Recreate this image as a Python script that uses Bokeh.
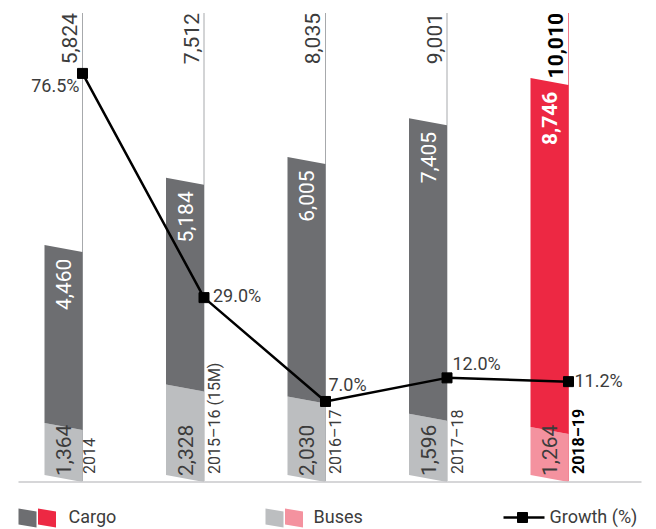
import numpy as np
from bokeh.plotting import figure
from bokeh.models import Range1d, ColumnDataSource
from bokeh.core.properties import value
from bokeh.embed import file_html
from bokeh.resources import INLINE

# ---------------- data ----------------
categories = ["2014", "2015–16 (15M)", "2016–17", "2017–18", "2018–19"]
cargo = [4460, 5184, 6005, 7405, 8746]
buses = [1364, 2328, 2030, 1596, 1264]
totals = [5824, 7512, 8035, 9001, 10010]
growth = [76.5, 29.0, 7.0, 12.0, 11.2]
cargo_labels = ["4,460", "5,184", "6,005", "7,405", "8,746"]
bus_labels = ["1,364", "2,328", "2,030", "1,596", "1,264"]
total_labels = ["5,824", "7,512", "8,035", "9,001", "10,010"]
growth_labels = ["76.5%", "29.0%", "7.0%", "12.0%", "11.2%"]

# ---------------- geometry / styles ----------------
W, H = 656, 529
OFF = 0                  # page offset of the canvas
PX_PER_CAT = 121.5
X0 = -(63 - OFF) / PX_PER_CAT
X1 = X0 + W / PX_PER_CAT
ZERO_PY = 480.5 - OFF    # frame y of value 0
PX_PER_UNIT = 0.0399
Y1 = ZERO_PY / PX_PER_UNIT
Y0 = -(H - ZERO_PY) / PX_PER_UNIT
G_ZERO_PY = 434 - OFF
PX_PER_PCT = 4.72
G1 = G_ZERO_PY / PX_PER_PCT
G0 = -(H - G_ZERO_PY) / PX_PER_PCT
AF = 7                   # correction of the rendered alphabetic baseline (px)


def dx(px):
    return px / PX_PER_CAT


def dy(px):
    return px / PX_PER_UNIT


def dg(px):
    return px / PX_PER_PCT


def px_x(page_x):
    return X0 + (page_x - OFF) / PX_PER_CAT


def px_y(page_y):
    return (ZERO_PY - (page_y - OFF)) / PX_PER_UNIT


FONT = value("Roboto")
TXT = "#3c3c3c"
GREY_DARK, GREY_LIGHT = "#6d6e71", "#bcbec0"
RED, PINK = "#ed2843", "#f4929f"

n = len(categories)
idx = np.arange(n)
half = dx(19)
left = idx - half
right = idx + half
SL = dy(3.5)
bus_top = np.array(buses, dtype=float)
tot = bus_top + np.array(cargo, dtype=float)

cargo_colors = [GREY_DARK] * (n - 1) + [RED]
bus_colors = [GREY_LIGHT] * (n - 1) + [PINK]
line_colors = ["#a7a9ac"] * (n - 1) + ["#f07a8a"]

p = figure(width=W, height=H, x_range=Range1d(X0, X1), y_range=Range1d(Y0, Y1),
           x_axis_location=None, y_axis_location=None, toolbar_location=None,
           output_backend="svg", min_border=0, outline_line_color=None)
p.extra_y_ranges = {"g": Range1d(G0, G1)}
p.grid.visible = False
p.background_fill_color = None
p.border_fill_color = None

# vertical thin lines to the top
p.segment(x0=right, y0=[0] * n, x1=right, y1=[px_y(12.5)] * n,
          line_color=line_colors, line_width=1)

# bars: buses (bottom) and cargo (top) as slanted parallelograms
bus_xs = [[l, r, r, l] for l, r in zip(left, right)]
bus_ys = [[dy(6), -dy(1), b - SL, b + SL] for b in bus_top]
cargo_ys = [[b + SL, b - SL, t - SL, t + SL] for b, t in zip(bus_top, tot)]
p.patches(bus_xs, bus_ys, fill_color=bus_colors, line_color=None)
p.patches(bus_xs, cargo_ys, fill_color=cargo_colors, line_color=None)

# baseline
p.segment(x0=[px_x(18)], y0=[px_y(481.5)], x1=[px_x(641)], y1=[px_y(481.5)],
          line_color="#c8c9cb", line_width=1.5)

# total labels (top)
weights = ["normal"] * (n - 1) + ["bold"]
p.text(x=right - dx(6 + AF), y=[px_y(12.5)] * n, text=total_labels, angle=np.pi / 2,
       text_align="right", text_baseline="alphabetic", text_font=FONT,
       text_font_size=value("21px"), text_color=[TXT] * (n - 1) + ["#000000"],
       text_font_style=weights)

# cargo labels
p.text(x=right - dx(12 + AF), y=tot - dy(10), text=cargo_labels, angle=np.pi / 2,
       text_align="right", text_baseline="alphabetic", text_font=FONT,
       text_font_size=value("21px"), text_color="#ffffff", text_font_style=weights)

# bus labels
p.text(x=right - dx(12 + AF), y=[dy(5)] * n, text=bus_labels, angle=np.pi / 2,
       text_align="left", text_baseline="alphabetic", text_font=FONT,
       text_font_size=value("21px"), text_color=TXT)

# category labels
p.text(x=right + dx(0.5), y=[dy(7)] * n, text=categories, angle=np.pi / 2,
       text_align="left", text_baseline="top", text_font=FONT,
       text_font_size=value("16px"), text_color=[TXT] * (n - 1) + ["#000000"],
       text_font_style=weights)

# growth line
gsrc = ColumnDataSource(dict(x=right, y=growth))
p.line("x", "y", source=gsrc, y_range_name="g", line_color="#000000", line_width=2.5)
p.scatter("x", "y", source=gsrc, y_range_name="g", marker="square", size=10,
          fill_color="#000000", line_color="#000000")

# growth labels (per-label placement around markers, in px)
g_dx = [-3, 9, 3, 5.5, 6]
g_dy = [12, -2, -17, -14, -1]
g_align = ["right", "left", "left", "left", "left"]
p.text(x=[r + dx(a) for r, a in zip(right, g_dx)],
       y=[g - dg(b) for g, b in zip(growth, g_dy)],
       text=growth_labels, y_range_name="g", text_align=g_align,
       text_baseline="alphabetic", text_font=FONT, text_font_size=value("18px"),
       text_color=TXT)

# ---------------- legend ----------------
def swatch(x0, x1, color):
    p.patch([px_x(x0), px_x(x1), px_x(x1), px_x(x0)],
            [px_y(508), px_y(511), px_y(527), px_y(524)],
            fill_color=color, line_color=None)


swatch(18, 36, GREY_DARK)
swatch(37.5, 55.5, RED)
swatch(265, 283, GREY_LIGHT)
swatch(284.5, 302.5, PINK)
p.segment(x0=[px_x(503)], y0=[px_y(517)], x1=[px_x(544)], y1=[px_y(517)],
          line_color="#000000", line_width=2.5)
p.scatter(x=[px_x(522)], y=[px_y(517)], marker="square", size=10,
          fill_color="#000000", line_color="#000000")
p.text(x=[px_x(68), px_x(313), px_x(549)], y=[px_y(523 - AF)] * 3,
       text=["Cargo", "Buses", "Growth (%)"], text_align="left",
       text_baseline="alphabetic", text_font=FONT, text_font_size=value("18px"),
       text_color=TXT)

open("out.html", "w").write(file_html(p, INLINE))
